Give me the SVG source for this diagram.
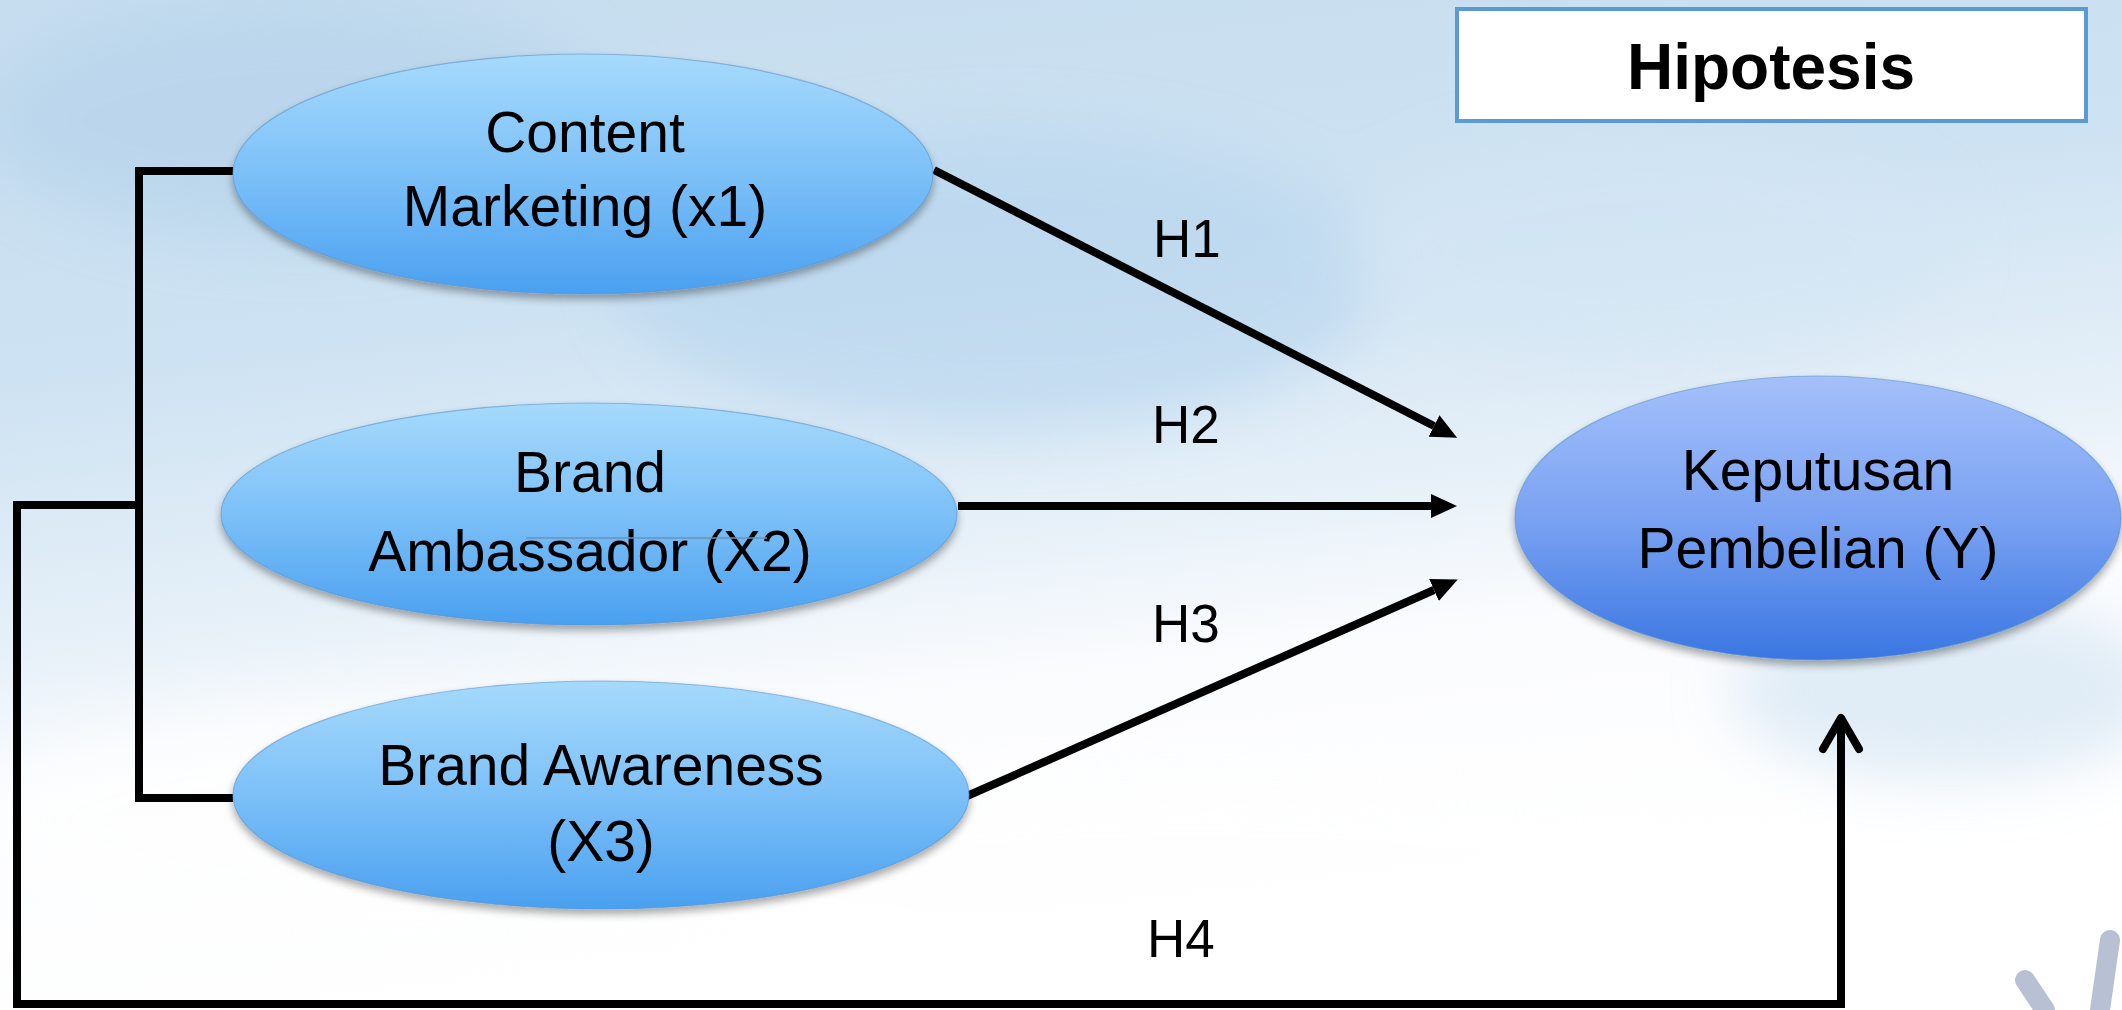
<svg xmlns="http://www.w3.org/2000/svg" width="2122" height="1010" viewBox="0 0 2122 1010">
<style>
.lbl{font-family:"Liberation Sans",Arial,sans-serif;font-size:57px;fill:#000;text-anchor:middle}
.h{font-family:"Liberation Sans",Arial,sans-serif;font-size:53px;fill:#000}
.title{font-family:"Liberation Sans",Arial,sans-serif;font-size:64px;font-weight:bold;fill:#000;text-anchor:middle}
.conn{fill:none;stroke:#000;stroke-width:8}
.ell{stroke:#5a94cc;stroke-opacity:0.6;stroke-width:1.2}
</style>
<defs>
<linearGradient id="bg" x1="0" y1="0" x2="0.25" y2="1">
<stop offset="0" stop-color="#c6ddef"/>
<stop offset="0.35" stop-color="#cde2f2"/>
<stop offset="0.6" stop-color="#e6f0f8"/>
<stop offset="0.75" stop-color="#fbfcfe"/>
<stop offset="1" stop-color="#ffffff"/>
</linearGradient>
<linearGradient id="gx" x1="0" y1="0" x2="0" y2="1">
<stop offset="0" stop-color="#a6dafc"/>
<stop offset="0.5" stop-color="#7cc0f8"/>
<stop offset="1" stop-color="#4aa0f0"/>
</linearGradient>
<linearGradient id="gy" x1="0" y1="0" x2="0" y2="1">
<stop offset="0" stop-color="#a4c0fa"/>
<stop offset="0.5" stop-color="#7aa2f2"/>
<stop offset="1" stop-color="#3a76e2"/>
</linearGradient>
<filter id="sh" x="-10%" y="-10%" width="120%" height="130%">
<feGaussianBlur in="SourceAlpha" stdDeviation="4"/>
<feOffset dx="0" dy="5"/>
<feComponentTransfer><feFuncA type="linear" slope="0.35"/></feComponentTransfer>
<feMerge><feMergeNode/><feMergeNode in="SourceGraphic"/></feMerge>
</filter>
<filter id="blur"><feGaussianBlur stdDeviation="30"/></filter>
<marker id="tri" markerUnits="userSpaceOnUse" markerWidth="26" markerHeight="24" refX="0" refY="12" orient="auto">
<path d="M0,0 L26,12 L0,24 z" fill="#000"/>
</marker>
</defs>
<rect x="0" y="0" width="2122" height="1010" fill="url(#bg)"/>
<g filter="url(#blur)" opacity="0.6">
<ellipse cx="300" cy="120" rx="320" ry="120" fill="#b3d1ea"/>
<ellipse cx="1000" cy="280" rx="380" ry="150" fill="#b6d4ee"/>
<ellipse cx="1650" cy="250" rx="300" ry="120" fill="#d4e6f4"/>
<ellipse cx="1950" cy="690" rx="220" ry="90" fill="#cde1f1"/>
<ellipse cx="400" cy="820" rx="420" ry="120" fill="#ffffff"/>
<ellipse cx="1200" cy="880" rx="600" ry="110" fill="#ffffff"/>
</g>
<g id="decor" fill="none" stroke="#b8c0d4" stroke-width="20" stroke-linecap="round">
<path d="M2025,980 L2045,1010"/>
<path d="M2110,940 L2100,1010"/>
</g>
<g id="connectors">
<polyline class="conn" points="233,171 139,171 139,798 233,798"/>
<polyline class="conn" points="139,505 17,505 17,1004 1841,1004 1841,722"/>
<polyline class="conn" points="1823,749 1841,718 1859,749" stroke-linecap="round" stroke-linejoin="round"/>
<line class="conn" x1="934" y1="170" x2="1434" y2="426" marker-end="url(#tri)"/>
<line class="conn" x1="958" y1="506" x2="1431" y2="506" marker-end="url(#tri)"/>
<line class="conn" x1="967" y1="796" x2="1434" y2="590" marker-end="url(#tri)"/>
</g>
<g id="labels">
<text class="h" x="1153" y="257">H1</text>
<text class="h" x="1152" y="443">H2</text>
<text class="h" x="1152" y="642">H3</text>
<text class="h" x="1147" y="957">H4</text>
</g>
<g id="node-x1">
<ellipse class="ell" cx="583" cy="174" rx="350" ry="120" fill="url(#gx)" filter="url(#sh)"/>
<text class="lbl" x="585" y="152">Content</text>
<text class="lbl" x="585" y="226">Marketing (x1)</text>
</g>
<g id="node-x2">
<ellipse class="ell" cx="589" cy="514" rx="368" ry="111" fill="url(#gx)" filter="url(#sh)"/>
<text class="lbl" x="590" y="492">Brand</text>
<text class="lbl" x="590" y="571">Ambassador (X2)</text>
<line x1="526" y1="538" x2="767" y2="538" stroke="#6f93b4" stroke-width="1.5"/>
</g>
<g id="node-x3">
<ellipse class="ell" cx="601" cy="795" rx="368" ry="114" fill="url(#gx)" filter="url(#sh)"/>
<text class="lbl" x="601" y="785">Brand Awareness</text>
<text class="lbl" x="601" y="861">(X3)</text>
</g>
<g id="node-y">
<ellipse class="ell" cx="1818" cy="518" rx="303" ry="142" fill="url(#gy)" filter="url(#sh)"/>
<text class="lbl" x="1818" y="490">Keputusan</text>
<text class="lbl" x="1818" y="568">Pembelian (Y)</text>
</g>
<g id="node-title">
<rect x="1457" y="9" width="629" height="112" fill="#ffffff" stroke="#5b9bd5" stroke-width="4"/>
<text class="title" x="1771" y="89">Hipotesis</text>
</g>
</svg>
